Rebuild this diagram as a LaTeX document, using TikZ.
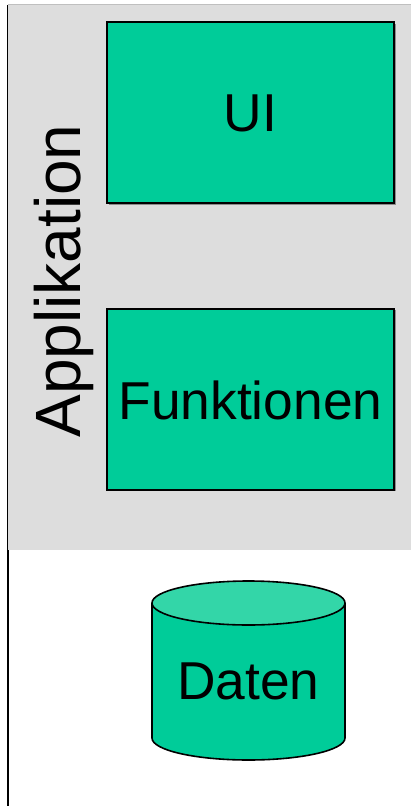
\documentclass[tikz,border=0pt]{standalone}
\usepackage{fontspec}
\setmainfont{Liberation Sans}
\usetikzlibrary{shadows}

\definecolor{panelgray}{RGB}{221,221,221}
\definecolor{layergreen}{RGB}{0,204,153}
\definecolor{lidgreen}{RGB}{51,214,168}

\tikzset{every picture/.style={line width=0.75pt}}
\tikzset{
layer/.style={draw=black, line width=1.5pt, fill=layergreen,
  minimum width=215.25pt, minimum height=135.75pt, inner sep=0pt,
  drop shadow={shadow xshift=1.2pt, shadow yshift=-1.2pt, fill=black!45, opacity=1}},
label text/.style={font=\fontsize{40}{48}\selectfont, inner sep=0pt, anchor=base}}

\begin{document}
\begin{tikzpicture}[x=0.75pt,y=0.75pt,yscale=-1,xscale=1]
\useasboundingbox (0,0) rectangle (413,806);

%Shape: Line, left edge
\draw [line width=1.5pt] (8,5) -- (8,806) ;
%Shape: Rectangle, application panel
\fill [panelgray] (8,5) rectangle (411,550) ;
\draw [color=black!25] (8,5) -- (411,5) ;
\draw [line width=0.75pt] (7.5,5) -- (7.5,550) ;

%Shape: Rectangles, layers
\node [layer] (ui) at (250.5,112.5) {};
\node [layer] (fkt) at (250.5,399) {};

%Shape: Can, data store
\draw [line width=1.2pt, fill=layergreen] (152,603) -- (152,738)
  arc [start angle=180, end angle=0, x radius=96.5, y radius=22] -- (345,603) ;
\draw [line width=1.2pt, fill=lidgreen] (248.5,603) ellipse [x radius=96.5, y radius=22] ;

% Text Node
\node [label text] (uitext) at (250.5,132) {UI};
% Text Node
\node [label text] (fkttext) at (250.5,419) {Funktionen};
% Text Node
\node [label text] (daten) at (248.5,699) {Daten};
% Text Node
\node [label text, font=\fontsize{48}{58}\selectfont, rotate=90] (app) at (80,281) {Applikation};

\end{tikzpicture}
\end{document}
